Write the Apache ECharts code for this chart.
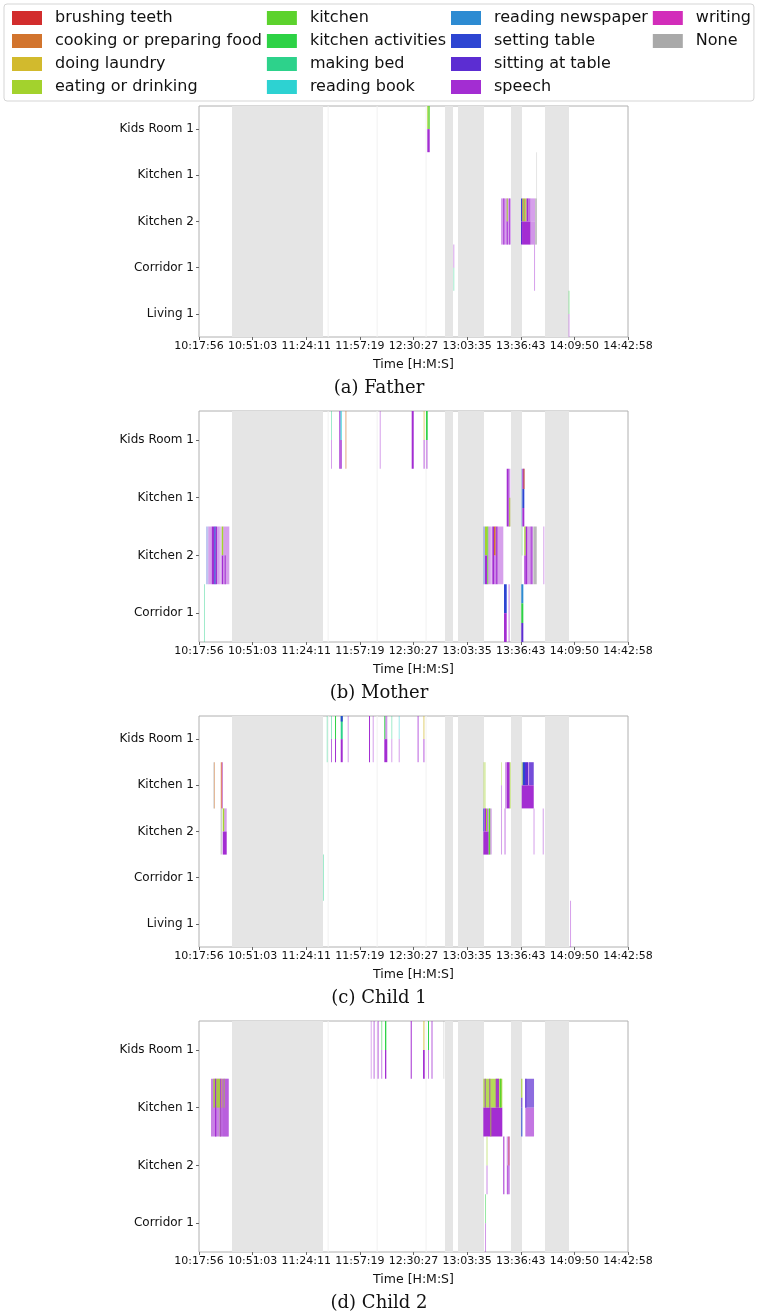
<!DOCTYPE html>
<html><head><meta charset="utf-8">
<script src="https://cdn.jsdelivr.net/npm/echarts@6/dist/echarts.min.js"></script>
<style>html,body{margin:0;padding:0;background:#fff}#c{width:758px;height:1311px}</style>
</head><body><div id="c"></div>
<script>
const activities = ['brushing teeth','cooking or preparing food','doing laundry','eating or drinking','kitchen','kitchen activities','making bed','reading book','reading newspaper','setting table','sitting at table','speech','writing','None'];
const activityCodes = ['BT','CK','DL','ED','KI','KA','MB','RB','RN','ST','SA','SP','WR','NO'];
const activityColors = ['#d22d2d','#d2742d','#d2ba2d','#a3d22d','#5cd22d','#2dd245','#2dd28b','#2dd2d2','#2d8bd2','#2d45d2','#5c2dd2','#a32dd2','#d22dba','#a9a9a9'];
const timeTicks = ['10:17:56','10:51:03','11:24:11','11:57:19','12:30:27','13:03:35','13:36:43','14:09:50','14:42:58'];
const roomsFather = ['Kids Room 1','Kitchen 1','Kitchen 2','Corridor 1','Living 1'];
const roomsMother = ['Kids Room 1','Kitchen 1','Kitchen 2','Corridor 1'];
const roomsChild1 = ['Kids Room 1','Kitchen 1','Kitchen 2','Corridor 1','Living 1'];
const roomsChild2 = ['Kids Room 1','Kitchen 1','Kitchen 2','Corridor 1'];
const captions = ['(a) Father','(b) Mother','(c) Child 1','(d) Child 2'];
// periods shaded grey in every panel
const shadedSpans = [['10:38:19','11:34:32'],['12:49:55','12:54:52'],['12:57:57','13:14:01'],['13:30:42','13:37:30'],['13:51:42','14:06:32']];
const faintSpans = [['11:37:25','11:37:55'],['12:07:40','12:08:10'],['12:37:55','12:38:25']];
// segment: [room index, start, end, activity code, band fraction from, band fraction to, opacity]
const fatherSegs = [
 [0,'12:38:59','12:39:36','ED',0,0.5,1],
 [0,'12:39:36','12:40:28','KI',0,0.5,1],
 [0,'12:38:59','12:40:28','SP',0.5,1,1],
 [3,'12:55:03','12:55:40','SP',0,0.5,0.45],
 [3,'12:55:03','12:55:40','MB',0.5,1,0.45],
 [2,'13:24:31','13:30:16','SP',0,1,0.45],
 [2,'13:25:56','13:26:34','SP',0,1,1],
 [2,'13:28:02','13:28:25','ED',0,0.5,1],
 [2,'13:28:02','13:28:40','SP',0.5,1,1],
 [2,'13:29:38','13:30:01','SP',0,1,1],
 [2,'13:36:52','13:37:41','ST',0,0.5,1],
 [2,'13:37:41','13:38:18','CK',0,0.5,1],
 [2,'13:38:18','13:38:55','KI',0,0.5,1],
 [2,'13:38:55','13:39:32','CK',0,0.5,1],
 [2,'13:39:32','13:40:17','ED',0,0.5,1],
 [2,'13:40:17','13:41:31','SP',0,0.5,1],
 [2,'13:41:31','13:42:45','SP',0,0.5,0.7],
 [2,'13:42:45','13:45:32','SP',0,0.5,0.45],
 [2,'13:36:52','13:37:30','SA',0.5,1,1],
 [2,'13:37:30','13:42:45','SP',0.5,1,1],
 [2,'13:42:45','13:45:32','SP',0.5,1,0.5],
 [2,'13:45:32','13:46:46','NO',0,1,0.7],
 [1,'13:46:09','13:46:31','NO',0,1,0.3],
 [3,'13:44:55','13:45:30','SP',0,1,0.45],
 [4,'14:06:13','14:06:43','KA',0,0.5,0.45],
 [4,'14:06:13','14:06:43','SP',0.5,1,0.45]
];
const motherSegs = [
 [0,'11:39:29','11:39:59','MB',0,0.5,0.45],
 [0,'11:39:29','11:39:59','SP',0.5,1,0.45],
 [0,'11:44:37','11:45:21','SP',0,1,1],
 [0,'11:45:21','11:46:06','RB',0,0.5,0.9],
 [0,'11:45:21','11:46:06','SP',0.5,1,1],
 [0,'11:48:08','11:49:11','CK',0,1,0.35],
 [0,'12:09:35','12:10:12','SP',0,1,0.45],
 [0,'12:29:20','12:30:35','SP',0,1,1],
 [0,'12:36:31','12:37:34','DL',0,0.5,0.4],
 [0,'12:36:31','12:37:34','SP',0.5,1,0.45],
 [0,'12:38:11','12:39:14','KA',0,0.5,1],
 [0,'12:38:11','12:39:14','SP',0.5,1,0.45],
 [1,'13:28:02','13:29:16','SP',0,1,1],
 [1,'13:29:16','13:30:16','SP',0,1,0.5],
 [1,'13:29:38','13:30:05','ED',0.5,1,1],
 [1,'13:37:03','13:37:41','RN',0,1,0.4],
 [1,'13:37:41','13:38:55','SP',0,0.35,1],
 [1,'13:38:25','13:38:55','CK',0,0.35,1],
 [1,'13:37:41','13:38:55','ST',0.35,0.68,1],
 [1,'13:37:41','13:38:55','SP',0.68,1,1],
 [2,'10:22:16','10:23:41','ST',0,1,0.3],
 [2,'10:23:41','10:25:47','SP',0,1,0.45],
 [2,'10:25:47','10:27:23','SP',0,1,1],
 [2,'10:27:23','10:28:15','ST',0,1,1],
 [2,'10:28:15','10:29:03','SP',0,1,1],
 [2,'10:29:03','10:30:43','SP',0,1,0.45],
 [2,'10:30:43','10:31:58','SP',0,1,0.3],
 [2,'10:31:58','10:32:57','ED',0,0.5,1],
 [2,'10:31:58','10:32:57','SP',0.5,1,1],
 [2,'10:32:57','10:36:39','SP',0,1,0.45],
 [2,'10:33:41','10:34:37','SP',0.5,1,0.7],
 [2,'13:13:35','13:14:38','ST',0,1,0.4],
 [2,'13:14:38','13:16:03','ED',0,0.5,1],
 [2,'13:14:38','13:16:03','SP',0.5,1,1],
 [2,'13:16:03','13:16:40','KI',0,1,1],
 [2,'13:16:40','13:18:09','SP',0,1,0.45],
 [2,'13:18:09','13:19:08','SP',0,1,0.3],
 [2,'13:19:08','13:20:11','SP',0,1,1],
 [2,'13:20:11','13:21:14','CK',0,0.5,1],
 [2,'13:20:11','13:21:14','SP',0.5,1,0.6],
 [2,'13:21:14','13:22:28','SP',0,1,0.9],
 [2,'13:22:28','13:25:56','SP',0,1,0.45],
 [2,'13:37:18','13:37:41','KA',0,0.5,0.35],
 [2,'13:38:55','13:39:47','ED',0,0.5,1],
 [2,'13:38:55','13:39:47','SP',0.5,1,1],
 [2,'13:39:47','13:40:46','SP',0,1,1],
 [2,'13:40:46','13:42:38','SP',0,1,0.45],
 [2,'13:42:38','13:44:07','SP',0,1,0.8],
 [2,'13:44:29','13:46:35','NO',0,1,0.8],
 [2,'13:50:39','13:51:10','SP',0,1,0.45],
 [3,'10:21:01','10:21:31','MB',0,1,0.45],
 [3,'13:26:22','13:28:02','ST',0,0.5,1],
 [3,'13:26:22','13:28:02','SP',0.5,1,1],
 [3,'13:29:02','13:30:04','SP',0,1,0.35],
 [3,'13:37:03','13:38:18','RN',0,0.33,1],
 [3,'13:37:03','13:38:18','KA',0.33,0.67,1],
 [3,'13:37:03','13:38:18','SA',0.67,1,1]
];
const child1Segs = [
 [0,'11:36:50','11:37:27','MB',0,1,0.45],
 [0,'11:39:29','11:39:59','MB',0,0.5,0.5],
 [0,'11:39:29','11:39:59','SP',0.5,1,0.7],
 [0,'11:41:58','11:42:35','KA',0,0.5,1],
 [0,'11:41:58','11:42:35','SP',0.5,1,1],
 [0,'11:45:29','11:46:43','MB',0,0.5,1],
 [0,'11:45:29','11:46:43','ST',0,0.12,1],
 [0,'11:45:29','11:46:43','SP',0.5,1,1],
 [0,'11:49:48','11:50:25','SP',0,1,0.45],
 [0,'12:02:58','12:03:34','SP',0,1,1],
 [0,'12:05:15','12:05:52','SP',0,1,0.45],
 [0,'12:12:25','12:13:02','KA',0,0.5,1],
 [0,'12:13:02','12:14:16','SP',0,0.5,0.5],
 [0,'12:12:25','12:14:16','SP',0.5,1,1],
 [0,'12:16:44','12:17:11','MB',0,0.5,0.45],
 [0,'12:16:44','12:17:11','SP',0.5,1,0.45],
 [0,'12:21:19','12:21:45','RB',0,0.5,0.45],
 [0,'12:21:19','12:21:45','SP',0.5,1,0.45],
 [0,'12:32:48','12:33:52','SP',0,1,0.45],
 [0,'12:36:20','12:37:23','DL',0,0.5,0.4],
 [0,'12:36:20','12:37:23','SP',0.5,1,0.45],
 [1,'10:26:46','10:27:12','NO',0,1,0.5],
 [1,'10:27:12','10:27:49','CK',0,1,0.45],
 [1,'10:31:20','10:31:43','CK',0,1,0.6],
 [1,'10:31:43','10:32:08','BT',0,1,0.6],
 [1,'10:32:08','10:32:35','SP',0,1,0.45],
 [2,'10:31:20','10:31:58','NO',0,1,0.8],
 [2,'10:32:35','10:33:34','ED',0,0.5,1],
 [2,'10:32:35','10:35:03','SP',0.5,1,1],
 [2,'10:33:34','10:35:03','SP',0,0.5,0.45],
 [3,'11:34:32','11:34:59','MB',0,1,0.45],
 [4,'14:07:09','14:07:35','SP',0,1,0.45],
 [1,'13:13:35','13:15:04','ED',0,1,0.4],
 [1,'13:24:31','13:25:08','ED',0,0.5,0.4],
 [1,'13:24:31','13:25:08','SP',0.5,1,0.45],
 [1,'13:26:59','13:28:02','SP',0,1,0.45],
 [1,'13:28:02','13:29:53','SP',0,1,1],
 [1,'13:29:53','13:30:16','ED',0,1,0.7],
 [1,'13:37:18','13:37:55','ED',0,0.5,0.8],
 [1,'13:37:55','13:39:21','ST',0,0.5,1],
 [1,'13:39:21','13:41:13','SA',0,0.5,1],
 [1,'13:41:13','13:41:50','SP',0,0.5,0.5],
 [1,'13:41:50','13:44:44','SA',0,0.5,0.85],
 [1,'13:37:18','13:44:44','SP',0.5,1,1],
 [2,'13:13:35','13:14:12','ST',0,0.5,1],
 [2,'13:14:12','13:15:15','SP',0,0.5,1],
 [2,'13:15:15','13:15:52','ED',0,0.5,1],
 [2,'13:15:52','13:16:47','SP',0,0.5,0.7],
 [2,'13:13:35','13:16:55','SP',0.5,1,1],
 [2,'13:16:55','13:17:54','KI',0,1,1],
 [2,'13:17:54','13:18:46','SP',0,1,0.45],
 [2,'13:24:31','13:25:08','SP',0,1,0.45],
 [2,'13:26:34','13:27:26','SP',0,1,0.45],
 [2,'13:44:36','13:45:06','SP',0,1,0.45],
 [2,'13:50:17','13:50:54','SP',0,1,0.45]
];
const child2Segs = [
 [0,'12:04:01','12:04:38','SP',0,1,0.4],
 [0,'12:05:37','12:06:40','SP',0,1,0.4],
 [0,'12:08:05','12:09:08','SP',0,1,0.45],
 [0,'12:10:23','12:11:11','KA',0,0.5,0.4],
 [0,'12:10:23','12:11:11','SP',0.5,1,0.45],
 [0,'12:12:51','12:13:39','KA',0,0.5,1],
 [0,'12:12:51','12:13:39','SP',0.5,1,1],
 [0,'12:28:44','12:29:20','SP',0,1,1],
 [0,'12:36:20','12:37:23','DL',0,0.5,0.5],
 [0,'12:36:20','12:37:23','SP',0.5,1,1],
 [0,'12:39:25','12:40:02','KA',0,0.5,1],
 [0,'12:39:25','12:40:02','SP',0.5,1,0.6],
 [0,'12:41:27','12:42:19','SP',0,1,0.55],
 [0,'12:48:52','12:49:29','NO',0,1,0.35],
 [1,'10:25:21','10:36:17','SP',0,1,0.6],
 [1,'10:26:46','10:28:00','ED',0,0.5,0.85],
 [1,'10:27:49','10:28:37','SP',0,1,1],
 [1,'10:28:37','10:31:05','ED',0,0.5,0.85],
 [1,'10:30:43','10:31:05','ED',0.5,1,0.7],
 [1,'10:31:05','10:31:43','SP',0,1,1],
 [1,'10:31:43','10:32:20','DL',0,0.5,0.7],
 [1,'10:32:20','10:36:17','SP',0,1,0.4],
 [1,'10:33:10','10:33:40','ED',0,0.5,0.7],
 [1,'13:13:35','13:25:19','ED',0,0.5,0.8],
 [1,'13:13:35','13:25:19','SP',0.5,1,1],
 [1,'13:14:27','13:15:04','SP',0,0.5,0.8],
 [1,'13:17:17','13:17:54','SP',0,0.5,0.8],
 [1,'13:17:54','13:18:31','ED',0.5,1,0.8],
 [1,'13:21:14','13:23:16','SP',0,0.5,0.9],
 [1,'13:23:53','13:24:42','KI',0,0.5,1],
 [1,'13:37:03','13:37:41','ED',0,0.33,1],
 [1,'13:37:03','13:37:41','SA',0.33,0.5,1],
 [1,'13:37:03','13:37:41','ST',0.5,1,1],
 [1,'13:39:32','13:44:55','SA',0,0.5,0.7],
 [1,'13:39:32','13:44:55','SP',0.5,1,0.65],
 [1,'13:39:32','13:40:09','SA',0,0.5,1],
 [2,'13:15:26','13:16:18','ED',0,0.5,0.4],
 [2,'13:15:26','13:16:18','SP',0.5,1,0.4],
 [2,'13:25:56','13:26:34','SP',0,1,1],
 [2,'13:28:02','13:30:04','SP',0,1,0.45],
 [2,'13:29:02','13:29:27','BT',0,0.5,0.6],
 [2,'13:28:25','13:29:02','SP',0.5,1,0.8],
 [3,'13:14:38','13:15:04','KA',0,0.5,0.5],
 [3,'13:14:38','13:15:04','SP',0.5,1,0.5]
];

const toSec = s => { const p = s.split(':').map(Number); return p[0]*3600 + p[1]*60 + p[2]; };
const START = toSec(timeTicks[0]);
const SPAN = toSec(timeTicks[timeTicks.length-1]) - START;
const STEP = SPAN / (timeTicks.length - 1);
const off = s => toSec(s) - START;

const panels = [
  {rooms: roomsFather, segs: fatherSegs, top: 106},
  {rooms: roomsMother, segs: motherSegs, top: 411},
  {rooms: roomsChild1, segs: child1Segs, top: 716},
  {rooms: roomsChild2, segs: child2Segs, top: 1021}
];
const PH = 231;

const grids = [], xAxes = [], yAxes = [], series = [], titles = [];
const font = 'DejaVu Sans';
panels.forEach((p, i) => {
  grids.push({left: 199, width: 429, top: p.top, height: PH, show: true, borderColor: '#b0b0b0', borderWidth: 1, backgroundColor: '#fff'});
  xAxes.push({
    type: 'value', gridIndex: i, min: 0, max: SPAN, interval: STEP,
    axisLine: {show: false}, splitLine: {show: false},
    axisTick: {show: true, length: 3, lineStyle: {color: '#666'}},
    axisLabel: {fontSize: 11, color: '#111', fontFamily: font, margin: 4, showMinLabel: true, showMaxLabel: true,
      formatter: v => timeTicks[Math.round(v / STEP)]},
    name: 'Time [H:M:S]', nameLocation: 'middle', nameGap: 21,
    nameTextStyle: {fontSize: 12.5, color: '#111', fontFamily: font}
  });
  yAxes.push({
    type: 'category', gridIndex: i, data: p.rooms, inverse: true,
    axisLine: {show: false}, splitLine: {show: false},
    axisTick: {show: true, alignWithLabel: true, length: 3, lineStyle: {color: '#666'}},
    axisLabel: {fontSize: 12, color: '#111', fontFamily: font, margin: 5}
  });
  titles.push({text: captions[i], left: 'center', top: p.top + PH + 37,
    textStyle: {fontFamily: 'DejaVu Serif', fontSize: 18, fontWeight: 'normal', color: '#111'}});
  const bg = (spans, color) => ({
    type: 'custom', xAxisIndex: i, yAxisIndex: i, silent: true, z: 1,
    data: spans.map(s => [off(s[0]), off(s[1]), 0]),
    encode: {x: [0, 1], y: 2},
    renderItem: (params, api) => {
      const a = api.coord([api.value(0), 0]), b = api.coord([api.value(1), 0]);
      const cs = params.coordSys;
      return {type: 'rect', shape: {x: a[0], y: cs.y, width: Math.max(b[0] - a[0], 1), height: cs.height}, style: {fill: color}};
    }
  });
  series.push(bg(shadedSpans, '#e5e5e5'));
  series.push(bg(faintSpans, '#f1f1f1'));
  activities.forEach((act, k) => {
    const code = activityCodes[k];
    const color = activityColors[k];
    const data = [];
    p.segs.forEach((s, idx) => {
      if (s[3] === code) data.push([off(s[1]), off(s[2]), s[0], s[4], s[5], s[6], idx]);
    });
    series.push({
      type: 'custom', name: act, xAxisIndex: i, yAxisIndex: i, z: 2, silent: true,
      itemStyle: {color: color},
      encode: {x: [0, 1], y: 2},
      data: data,
      renderItem: (params, api) => {
        const c0 = api.coord([api.value(0), api.value(2)]);
        const c1 = api.coord([api.value(1), api.value(2)]);
        const h = api.size([0, 1])[1];
        const top = c0[1] - h / 2;
        const y0 = top + api.value(3) * h, y1 = top + api.value(4) * h;
        return {type: 'rect', z2: api.value(6),
          shape: {x: c0[0], y: y0, width: Math.max(c1[0] - c0[0], 1), height: y1 - y0},
          style: {fill: color, opacity: api.value(5)}};
      }
    });
  });
});

const chart = echarts.init(document.getElementById('c'), null, {renderer: 'canvas'});
chart.setOption({
  animation: false,
  backgroundColor: '#fff',
  textStyle: {fontFamily: font},
  title: titles,
  legend: {
    data: activities, orient: 'vertical', left: 4, top: 4, height: 90,
    itemWidth: 30, itemHeight: 14, itemGap: 5, icon: 'rect', selectedMode: false,
    padding: [5, 3, 5, 8], borderColor: '#d5d5d5', borderWidth: 1, borderRadius: 3, backgroundColor: '#fff',
    textStyle: {fontFamily: font, fontSize: 16, color: '#111', lineHeight: 18, padding: [0, 0, 0, 8]}
  },
  grid: grids, xAxis: xAxes, yAxis: yAxes, series: series
});
</script></body></html>
